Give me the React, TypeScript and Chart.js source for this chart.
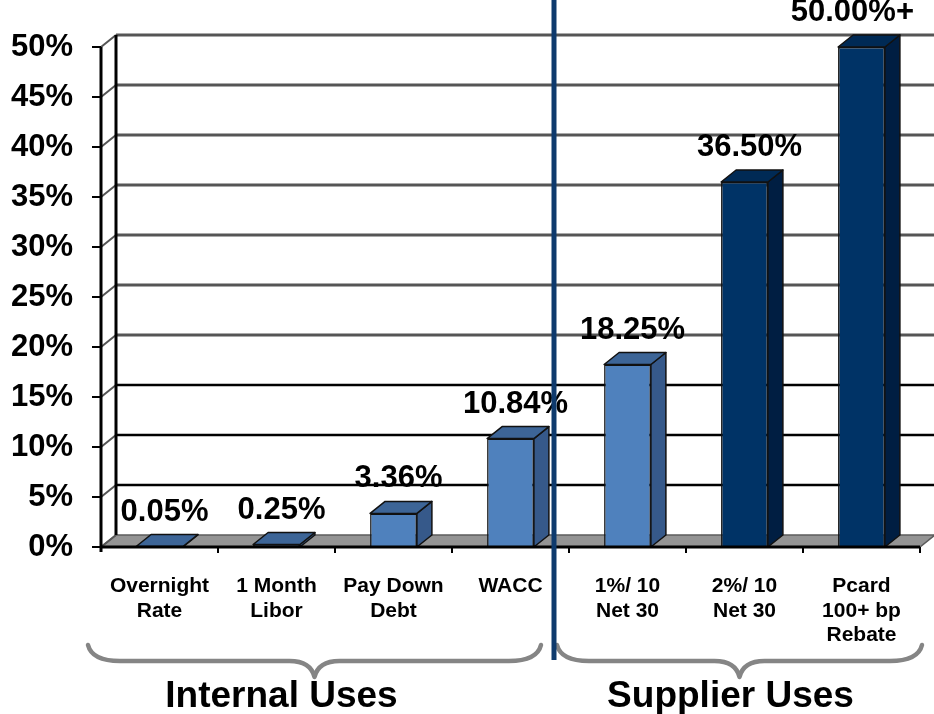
import React, { useEffect, useRef } from 'react';
import { Chart, registerables } from 'chart.js';

Chart.register(...registerables);

// ---- chart data ----
const categories: string[][] = [
  ['Overnight', 'Rate'],
  ['1 Month', 'Libor'],
  ['Pay Down', 'Debt'],
  ['WACC'],
  ['1%/ 10', 'Net 30'],
  ['2%/ 10', 'Net 30'],
  ['Pcard', '100+ bp', 'Rebate'],
];
const rates = [0.05, 0.25, 3.36, 10.84, 18.25, 36.5, 50];
const rateSuffix = ['', '', '', '', '', '', '+'];
const barTone = ['light', 'light', 'light', 'light', 'light', 'dark', 'dark'];
const yTicks = [0, 5, 10, 15, 20, 25, 30, 35, 40, 45, 50];
const groupNames = ['Internal Uses', 'Supplier Uses'];
const groupFirst = [0, 4];
const groupLast = [3, 6];

// ---- styling ----
const FONT = "'Liberation Sans', Arial, Helvetica, sans-serif";
const DX = 15; // depth offset of the 3-D box, horizontal
const DY = 12; // depth offset of the 3-D box, vertical
const palette: Record<string, { front: string; side: string; top: string }> = {
  light: { front: '#4f81bd', side: '#36598a', top: '#3d6597' },
  dark: { front: '#003366', side: '#001e42', top: '#002a55' },
};
const groupLabelShift = [-33, -9];

function seg(ctx: CanvasRenderingContext2D, x0: number, y0: number, x1: number, y1: number) {
  ctx.beginPath();
  ctx.moveTo(x0, y0);
  ctx.lineTo(x1, y1);
  ctx.stroke();
}

function brace(ctx: CanvasRenderingContext2D, x0: number, x1: number, yTop: number, yMid: number, yTip: number) {
  const cx = (x0 + x1) / 2;
  ctx.beginPath();
  ctx.moveTo(x0, yTop);
  ctx.quadraticCurveTo(x0 + 4, yMid, x0 + 32, yMid);
  ctx.lineTo(cx - 25, yMid);
  ctx.quadraticCurveTo(cx - 4, yMid, cx, yTip);
  ctx.quadraticCurveTo(cx + 4, yMid, cx + 25, yMid);
  ctx.lineTo(x1 - 32, yMid);
  ctx.quadraticCurveTo(x1 - 4, yMid, x1, yTop);
  ctx.stroke();
}

const depthPlugin = {
  id: 'depthBoxes',
  beforeDatasetsDraw(chart: any) {
    const { ctx, chartArea: a, scales } = chart;
    const y = scales.y;
    ctx.save();
    // floor
    ctx.beginPath();
    ctx.moveTo(a.left, a.bottom);
    ctx.lineTo(a.right, a.bottom);
    ctx.lineTo(a.right + DX, a.bottom - DY);
    ctx.lineTo(a.left + DX, a.bottom - DY);
    ctx.closePath();
    ctx.fillStyle = '#949494';
    ctx.fill();
    ctx.strokeStyle = '#5c5c5c';
    ctx.lineWidth = 1.5;
    ctx.stroke();
    // back wall gridlines, connectors and ticks
    yTicks.forEach((v) => {
      const py = y.getPixelForValue(v);
      if (v > 0) {
        ctx.strokeStyle = v >= 20 ? '#555555' : '#000000';
        ctx.lineWidth = v >= 20 ? 3 : 2.5;
        seg(ctx, a.left + DX, py - DY, chart.width, py - DY);
      }
      ctx.strokeStyle = '#555555';
      ctx.lineWidth = 2;
      seg(ctx, a.left, py, a.left + DX, py - DY);
      ctx.strokeStyle = '#000000';
      ctx.lineWidth = 2;
      seg(ctx, a.left - 9, py, a.left, py);
    });
    ctx.strokeStyle = '#000000';
    ctx.lineWidth = 3;
    seg(ctx, a.left + DX, a.top - DY, a.left + DX, a.bottom - DY);
    seg(ctx, a.left, a.top, a.left, a.bottom + 5);
    ctx.restore();
  },
  afterDatasetsDraw(chart: any) {
    const { ctx, chartArea: a } = chart;
    const meta = chart.getDatasetMeta(0);
    ctx.save();
    // side and top faces
    meta.data.forEach((bar: any, i: number) => {
      const { x, y, base, width } = bar.getProps(['x', 'y', 'base', 'width'], true);
      const c = palette[barTone[i]];
      const l = x - width / 2;
      const r = x + width / 2;
      ctx.lineWidth = 1.5;
      ctx.strokeStyle = '#111111';
      ctx.lineJoin = 'round';
      ctx.beginPath();
      ctx.moveTo(r, y);
      ctx.lineTo(r + DX, y - DY);
      ctx.lineTo(r + DX, base - DY);
      ctx.lineTo(r, base);
      ctx.closePath();
      ctx.fillStyle = c.side;
      ctx.fill();
      ctx.stroke();
      ctx.beginPath();
      ctx.moveTo(l, y);
      ctx.lineTo(l + DX, y - DY);
      ctx.lineTo(r + DX, y - DY);
      ctx.lineTo(r, y);
      ctx.closePath();
      ctx.fillStyle = c.top;
      ctx.fill();
      ctx.stroke();
    });
    // front base line and category ticks
    const step = (a.right - a.left) / categories.length;
    ctx.strokeStyle = '#000000';
    ctx.lineWidth = 3;
    seg(ctx, a.left, a.bottom, a.right, a.bottom);
    ctx.lineWidth = 2;
    for (let i = 1; i <= categories.length; i++) {
      const px = a.left + i * step;
      seg(ctx, px, a.bottom, px, a.bottom + 6);
    }
    // value labels
    ctx.font = `bold 31px ${FONT}`;
    ctx.fillStyle = '#000000';
    ctx.textAlign = 'center';
    ctx.textBaseline = 'alphabetic';
    meta.data.forEach((bar: any, i: number) => {
      const { x, y } = bar.getProps(['x', 'y'], true);
      const text = `${rates[i].toFixed(2)}%${rateSuffix[i]}`;
      const w = ctx.measureText(text).width;
      const cx = Math.min(x + 5, a.right - 6 - w / 2);
      ctx.fillText(text, cx, y - 26);
    });
    ctx.restore();
  },
  afterDraw(chart: any) {
    const { ctx, chartArea: a, scales } = chart;
    const x = scales.x;
    const step = (a.right - a.left) / categories.length;
    const divider = x.getPixelForValue(groupLast[0]) + step / 2 - DX;
    ctx.save();
    // group braces
    ctx.strokeStyle = '#858585';
    ctx.lineWidth = 4.5;
    ctx.lineCap = 'round';
    ctx.lineJoin = 'round';
    const spans = [
      [x.getPixelForValue(groupFirst[0]) - step / 2 - 13, divider - 13],
      [divider + 3, x.getPixelForValue(groupLast[1]) + step / 2 + 2],
    ];
    spans.forEach(([x0, x1]) => brace(ctx, x0, x1, 645, 661, 677));
    // group titles
    ctx.font = `bold 37px ${FONT}`;
    ctx.fillStyle = '#000000';
    ctx.textAlign = 'center';
    ctx.textBaseline = 'alphabetic';
    groupNames.forEach((name, i) => {
      const [x0, x1] = spans[i];
      ctx.fillText(name, (x0 + x1) / 2 + groupLabelShift[i], 707);
    });
    // divider between the two groups
    ctx.strokeStyle = '#0e3a6d';
    ctx.lineWidth = 5;
    ctx.lineCap = 'butt';
    seg(ctx, divider, 0, divider, 660);
    ctx.restore();
  },
};

export default function App() {
  const ref = useRef<HTMLCanvasElement>(null);

  useEffect(() => {
    const chart = new Chart(ref.current as HTMLCanvasElement, {
      type: 'bar',
      data: {
        labels: categories,
        datasets: [
          {
            data: rates,
            backgroundColor: barTone.map((t) => palette[t].front),
            borderColor: '#111111',
            borderWidth: 1.5,
            barPercentage: 0.4,
            categoryPercentage: 1,
          },
        ],
      },
      options: {
        responsive: false,
        animation: false,
        layout: { padding: { top: 47, right: 14, left: 0, bottom: 0 } },
        plugins: {
          legend: { display: false },
          title: { display: false },
          tooltip: { enabled: false },
        },
        scales: {
          x: {
            type: 'category',
            offset: true,
            grid: { display: false, drawTicks: false },
            border: { display: false },
            ticks: {
              color: '#000000',
              font: { family: FONT, size: 21, weight: 'bold', lineHeight: 1.17 },
              padding: 27,
              maxRotation: 0,
              minRotation: 0,
              autoSkip: false,
            },
            afterFit: (s: any) => {
              s.height = 167;
            },
          },
          y: {
            min: 0,
            max: 50,
            grid: { display: false, drawTicks: false },
            border: { display: false },
            afterBuildTicks: (s: any) => {
              s.ticks = yTicks.map((value) => ({ value }));
            },
            ticks: {
              color: '#000000',
              font: { family: FONT, size: 31, weight: 'bold' },
              padding: 28,
              callback: (v: any) => `${v}%`,
            },
            afterFit: (s: any) => {
              s.width = 101;
            },
          },
        },
      } as any,
      plugins: [depthPlugin],
    });
    return () => chart.destroy();
  }, []);

  return (
    <div style={{ position: 'fixed', left: 0, top: 0, width: 934, height: 714, background: '#ffffff' }}>
      <canvas ref={ref} width={934} height={714} style={{ display: 'block', width: 934, height: 714 }} />
    </div>
  );
}
